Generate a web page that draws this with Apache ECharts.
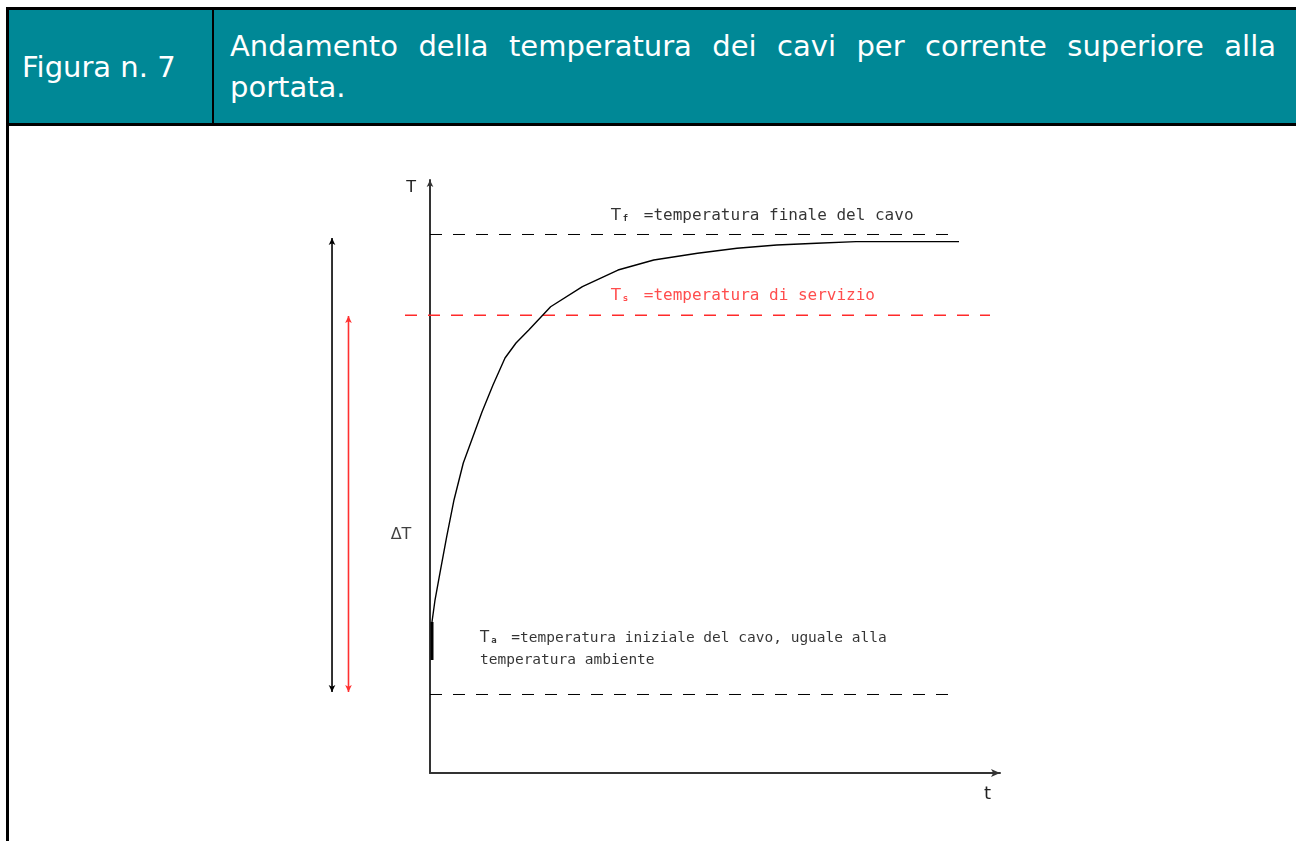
<!DOCTYPE html>
<html>
<head>
<meta charset="utf-8">
<script src="https://cdn.jsdelivr.net/npm/echarts@6/dist/echarts.min.js"></script>
<style>
  html, body { margin: 0; padding: 0; background: #fff; }
  #chart { position: absolute; left: 0; top: 0; width: 1296px; height: 841px; }
  #hdr {
    position: absolute; left: 6px; top: 7px; width: 1287px; height: 113px;
    border: 3px solid #000; background: #008896; color: #fff;
    font-family: "DejaVu Sans", Verdana, sans-serif;
  }
  #fig {
    position: absolute; left: 0; top: 0; width: 205px; height: 113px;
    border-right: 2px solid #000; box-sizing: border-box;
    display: flex; align-items: center; padding-left: 13px; font-size: 29px;
  }
  #title {
    position: absolute; left: 207px; top: 0; right: 0; height: 113px;
    box-sizing: border-box; padding: 16px 20px 0 14px;
    font-size: 29px; line-height: 41px;
  }
  #title .l1 { text-align: justify; text-align-last: justify; white-space: nowrap; }
  #leftBorder { position: absolute; left: 6px; top: 126px; width: 3px; height: 715px; background: #000; }
</style>
</head>
<body>
<div id="chart"></div>
<div id="hdr">
  <div id="fig">Figura n. 7</div>
  <div id="title">
    <div class="l1">Andamento della temperatura dei cavi per corrente superiore alla</div>
    <div>portata.</div>
  </div>
</div>
<div id="leftBorder"></div>
<script>
// curva di riscaldamento del cavo (tempo, temperatura) in unita' del grafico
const curveTime = [0.35, 0.35, 0.88, 1.75, 2.93, 4.21, 5.84, 7.32, 9.12, 11.05, 13.16, 15.09,
  17.33, 21.16, 26.74, 32.98, 39.26, 46.93, 53.86, 60.84, 67.81, 74.74, 92.81];
const curveTemp = [19.06, 25.46, 29.17, 33.73, 39.85, 46.04, 52.28, 56.16, 60.88, 65.43, 69.98, 72.51,
  74.70, 78.63, 82.01, 84.82, 86.51, 87.64, 88.48, 89.04, 89.33, 89.60, 89.60];

// livelli di temperatura: finale, servizio, ambiente
const levelValues = [90.81, 77.2, 13.24];
const levelStart = [0, -4.39, 0];
const levelEnd = [92.46, 98.25, 92.46];
const levelColors = ['#000', '#ff2a2a', '#000'];
const levelWidths = [1, 1.4, 1];

// quote Delta T
const deltaX = [-17.19, -14.30];
const deltaTop = [90.22, 77.07];
const deltaBottom = [13.66, 13.66];
const deltaColors = ['#000', '#ff3030'];

// testi
const labelText = [
  '{t|T}{s|f} =temperatura finale del cavo',
  '{t|T}{s|s} =temperatura di servizio',
  '{t|T}{s|a} =temperatura iniziale del cavo, uguale alla\ntemperatura ambiente',
  'ΔT'
];
const labelX = [31.75, 31.75, 8.77, -5.09];
const labelY = [93.9, 80.4, 20.9, 40.1];
const labelColors = ['#000', '#ff2020', '#000', '#111'];

var chart = echarts.init(document.getElementById('chart'));

// griglia 0: assi visibili; griglia 1: stessa scala, estesa a sinistra per le quote
var PX_PER_UNIT = 5.7;
var EXT = 20;

var series = [];

levelValues.forEach(function (v, i) {
  series.push({
    type: 'line',
    xAxisIndex: 1,
    yAxisIndex: 1,
    silent: true,
    symbol: 'none',
    data: [[levelStart[i], v], [levelEnd[i], v]],
    lineStyle: { color: levelColors[i], width: levelWidths[i], type: [12, 11] },
    z: 2
  });
});

deltaX.forEach(function (x, i) {
  series.push({
    type: 'line',
    xAxisIndex: 1,
    yAxisIndex: 1,
    silent: true,
    symbol: 'arrow',
    symbolSize: [5, 7],
    itemStyle: { color: deltaColors[i] },
    data: [
      { value: [x, deltaTop[i]], symbolRotate: 0 },
      { value: [x, deltaBottom[i]], symbolRotate: 180 }
    ],
    lineStyle: { color: deltaColors[i], width: 1.6 },
    z: 3
  });
});

// curva
series.push({
  type: 'line',
  xAxisIndex: 1,
  yAxisIndex: 1,
  silent: true,
  symbol: 'none',
  data: curveTime.map(function (t, i) { return [t, curveTemp[i]]; }),
  lineStyle: { color: '#000', width: 1.4 },
  z: 4
});
// tratto iniziale piu' spesso
series.push({
  type: 'line',
  xAxisIndex: 1,
  yAxisIndex: 1,
  silent: true,
  symbol: 'none',
  data: [[curveTime[0], curveTemp[0]], [curveTime[1], curveTemp[1]]],
  lineStyle: { color: '#000', width: 3 },
  z: 4
});

// etichette
series.push({
  type: 'scatter',
  xAxisIndex: 1,
  yAxisIndex: 1,
  silent: true,
  symbolSize: 0,
  data: labelText.map(function (txt, i) {
    return {
      value: [labelX[i], labelY[i]],
      label: {
        show: true,
        position: i === 3 ? 'inside' : 'right',
        distance: 0,
        align: i === 3 ? 'center' : 'left',
        formatter: txt,
        color: labelColors[i],
        fontFamily: i === 3 ? 'DejaVu Sans' : 'DejaVu Sans Mono',
        fontSize: i === 2 ? 14.5 : 16,
        lineHeight: 22,
        rich: {
          t: { fontSize: i === 2 ? 15 : 16, color: labelColors[i], fontFamily: 'DejaVu Sans' },
          s: { fontSize: 9, color: labelColors[i], fontWeight: 'bold', padding: [5, 6, 0, 2] }
        }
      }
    };
  }),
  z: 5
});

var hiddenAxis = {
  show: false
};

var option = {
  animation: false,
  backgroundColor: '#fff',
  grid: [
    { left: 430, top: 180, width: 570, height: 593 },
    { left: 430 - EXT * PX_PER_UNIT, top: 180, width: 570 + EXT * PX_PER_UNIT, height: 593 }
  ],
  xAxis: [{
    type: 'value',
    gridIndex: 0,
    min: 0,
    max: 100,
    name: 't',
    nameLocation: 'end',
    nameGap: -9,
    nameTextStyle: { color: '#222', fontSize: 18, fontFamily: 'DejaVu Sans', align: 'right', verticalAlign: 'top', padding: [12, 0, 0, 0] },
    axisLine: { show: true, symbol: ['none', 'arrow'], symbolSize: [6, 9], lineStyle: { color: '#333', width: 2 } },
    axisTick: { show: false },
    axisLabel: { show: false },
    splitLine: { show: false }
  }, Object.assign({ type: 'value', gridIndex: 1, min: -EXT, max: 100 }, hiddenAxis)],
  yAxis: [{
    type: 'value',
    gridIndex: 0,
    min: 0,
    max: 100,
    name: 'T',
    nameLocation: 'end',
    nameGap: -8,
    nameTextStyle: { color: '#222', fontSize: 16, fontFamily: 'DejaVu Sans', align: 'right', verticalAlign: 'middle', padding: [0, 14, 0, 0] },
    axisLine: { show: true, symbol: ['none', 'arrow'], symbolSize: [5, 7], lineStyle: { color: '#333', width: 2 } },
    axisTick: { show: false },
    axisLabel: { show: false },
    splitLine: { show: false }
  }, Object.assign({ type: 'value', gridIndex: 1, min: 0, max: 100 }, hiddenAxis)],
  series: series
};

chart.setOption(option);
</script>
</body>
</html>
